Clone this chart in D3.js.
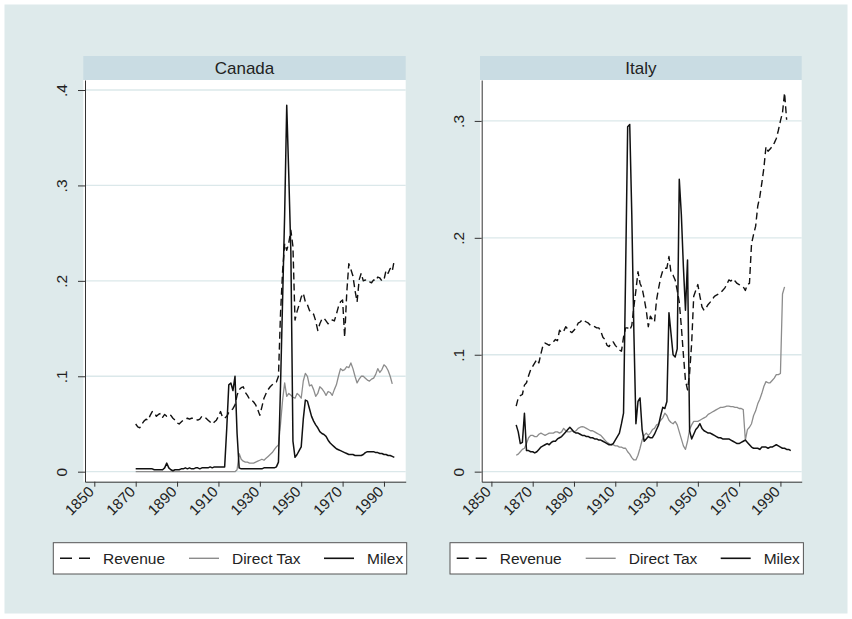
<!DOCTYPE html>
<html>
<head>
<meta charset="utf-8">
<script src="https://cdn.jsdelivr.net/npm/d3@7"></script>
<style>
  body { margin: 0; background: #fff; }
  svg text { font-family: "Liberation Sans", Arial, Helvetica, sans-serif; fill: #222; }
</style>
</head>
<body>
<div id="chart"></div>
<script>
// ---- data (shares of GDP) ----
const seriesNames = ["Revenue", "Direct Tax", "Milex"];
const xTickYears = [1850, 1870, 1890, 1910, 1930, 1950, 1970, 1990];
const canadaYTicks = [0, 0.1, 0.2, 0.3, 0.4];
const italyYTicks = [0, 0.1, 0.2, 0.3];

// Canada, one value per year 1870..1995
const canadaYears = d3.range(1870, 1996);
const canadaRevenue = [
  0.050, 0.047, 0.046, 0.050, 0.053, 0.055, 0.054, 0.059, 0.063, 0.062,
  0.058, 0.060, 0.061, 0.057, 0.060, 0.058, 0.060, 0.059, 0.056, 0.054,
  0.051, 0.050, 0.052, 0.054, 0.055, 0.056, 0.055, 0.056, 0.056, 0.055,
  0.054, 0.055, 0.058, 0.057, 0.056, 0.054, 0.052, 0.050, 0.052, 0.054,
  0.058, 0.063, 0.057, 0.056, 0.058, 0.062, 0.064, 0.066, 0.070, 0.080,
  0.086, 0.088, 0.089, 0.083, 0.080, 0.076, 0.075, 0.073, 0.070, 0.065,
  0.059, 0.068, 0.077, 0.082, 0.086, 0.089, 0.091, 0.093, 0.094, 0.100,
  0.166, 0.210, 0.239, 0.232, 0.240, 0.253, 0.236, 0.159, 0.168, 0.175,
  0.183, 0.187, 0.178, 0.175, 0.169, 0.166, 0.165, 0.158, 0.148, 0.155,
  0.160, 0.161, 0.158, 0.155, 0.157, 0.159, 0.158, 0.165, 0.173, 0.178,
  0.180, 0.141, 0.187, 0.218, 0.212, 0.205, 0.190, 0.178, 0.201, 0.208,
  0.200, 0.201, 0.199, 0.199, 0.198, 0.201, 0.200, 0.204, 0.203, 0.200,
  0.201, 0.211, 0.208, 0.213, 0.210, 0.222
];
const canadaDirectTax = [
  0, 0, 0, 0, 0, 0, 0, 0, 0, 0,
  0, 0, 0, 0, 0, 0, 0, 0, 0, 0,
  0, 0, 0, 0, 0, 0, 0, 0, 0, 0,
  0, 0, 0, 0, 0, 0, 0, 0, 0, 0,
  0, 0, 0, 0, 0, 0, 0, 0, 0, 0.002,
  0.019, 0.013, 0.011, 0.010, 0.010, 0.009, 0.009, 0.009, 0.010, 0.011,
  0.012, 0.013, 0.012, 0.014, 0.016, 0.018, 0.020, 0.023, 0.026, 0.028,
  0.050, 0.075, 0.093, 0.079, 0.082, 0.080, 0.078, 0.077, 0.082, 0.080,
  0.077, 0.095, 0.103, 0.100, 0.090, 0.091, 0.086, 0.079, 0.082, 0.089,
  0.087, 0.084, 0.080, 0.084, 0.083, 0.080, 0.086, 0.091, 0.100, 0.108,
  0.106, 0.107, 0.110, 0.109, 0.114, 0.108, 0.100, 0.093, 0.097, 0.100,
  0.100, 0.098, 0.096, 0.095, 0.097, 0.098, 0.102, 0.108, 0.104, 0.107,
  0.112, 0.110, 0.106, 0.100, 0.092, null
];
const canadaMilex = [
  0.003, 0.003, 0.003, 0.003, 0.003, 0.003, 0.003, 0.003, 0.003, 0.002,
  0.002, 0.002, 0.002, 0.002, 0.004, 0.009, 0.004, 0.002, 0.001, 0.002,
  0.002, 0.002, 0.003, 0.003, 0.004, 0.003, 0.004, 0.003, 0.003, 0.004,
  0.004, 0.003, 0.004, 0.004, 0.004, 0.004, 0.005, 0.004, 0.005, 0.005,
  0.005, 0.005, 0.005, 0.005, 0.045, 0.091, 0.093, 0.085, 0.100, 0.040,
  0.004, 0.003, 0.003, 0.003, 0.003, 0.003, 0.003, 0.003, 0.003, 0.003,
  0.003, 0.003, 0.004, 0.004, 0.004, 0.004, 0.004, 0.004, 0.005, 0.010,
  0.090, 0.180, 0.270, 0.384, 0.310, 0.230, 0.032, 0.015, 0.018, 0.022,
  0.026, 0.055, 0.075, 0.074, 0.066, 0.058, 0.053, 0.049, 0.046, 0.042,
  0.040, 0.039, 0.037, 0.033, 0.030, 0.028, 0.026, 0.024, 0.023, 0.022,
  0.021, 0.020, 0.019, 0.018, 0.018, 0.018, 0.017, 0.017, 0.017, 0.017,
  0.018, 0.020, 0.021, 0.021, 0.021, 0.021, 0.020, 0.020, 0.019, 0.019,
  0.018, 0.018, 0.017, 0.017, 0.016, 0.015
];

// Italy, one value per year 1862..1995
const italyYears = d3.range(1862, 1996);
const italyRevenue = [
  0.056, 0.063, 0.065, 0.066, 0.074, 0.076, 0.082, 0.087,
  0.090, 0.093, 0.096, 0.093, 0.101, 0.108, 0.110, 0.109, 0.108, 0.110,
  0.111, 0.113, 0.112, 0.121, 0.119, 0.120, 0.124, 0.122, 0.120, 0.119,
  0.121, 0.123, 0.127, 0.128, 0.130, 0.129, 0.128, 0.127, 0.125, 0.125,
  0.124, 0.123, 0.123, 0.120, 0.115, 0.113, 0.108, 0.107, 0.110, 0.111,
  0.108, 0.106, 0.104, 0.103, 0.115, 0.123, 0.123, 0.121, 0.125, 0.141,
  0.155, 0.171, 0.161, 0.157, 0.148, 0.138, 0.124, 0.133, 0.130, 0.128,
  0.147, 0.157, 0.166, 0.172, 0.174, 0.174, 0.184, 0.170, 0.168, 0.164,
  0.155, 0.145, 0.124, 0.100, 0.078, 0.070, 0.084, 0.110, 0.150, 0.155,
  0.160, 0.150, 0.141, 0.138, 0.140, 0.143, 0.145, 0.147, 0.150, 0.151,
  0.152, 0.153, 0.155, 0.157, 0.160, 0.164, 0.163, 0.165, 0.163, 0.161,
  0.160, 0.159, 0.158, 0.155, 0.160, 0.161, 0.195, 0.203, 0.210, 0.227,
  0.235, 0.247, 0.260, 0.278, 0.274, 0.276, 0.278, 0.281, 0.285, 0.292,
  0.300, 0.307, 0.324, 0.301, null, null
];
const italyDirectTax = [
  0.014, 0.015, 0.017, 0.019, 0.020, 0.024, 0.029, 0.031,
  0.031, 0.030, 0.030, 0.032, 0.033, 0.032, 0.031, 0.032, 0.033, 0.033,
  0.033, 0.034, 0.034, 0.033, 0.034, 0.037, 0.035, 0.034, 0.034, 0.035,
  0.034, 0.035, 0.037, 0.038, 0.0385, 0.038, 0.037, 0.036, 0.035, 0.035,
  0.034, 0.033, 0.032, 0.031, 0.029, 0.027, 0.025, 0.024, 0.023, 0.023,
  0.022, 0.022, 0.021, 0.021, 0.020, 0.020, 0.017, 0.015, 0.012, 0.010,
  0.010, 0.014, 0.020, 0.027, 0.031, 0.033, 0.031, 0.033, 0.036, 0.037,
  0.040, 0.041, 0.044, 0.046, 0.050, 0.048, 0.044, 0.042, 0.041, 0.043,
  0.040, 0.034, 0.028, 0.022, 0.019, 0.026, 0.036, 0.040, 0.043, 0.043,
  0.043, 0.044, 0.045, 0.046, 0.047, 0.049, 0.050, 0.051, 0.052, 0.053,
  0.054, 0.055, 0.055, 0.0555, 0.056, 0.056, 0.0556, 0.0556, 0.055, 0.055,
  0.054, 0.054, 0.053, 0.027, 0.036, 0.038, 0.041, 0.048, 0.052, 0.058,
  0.062, 0.067, 0.073, 0.077, 0.076, 0.076, 0.078, 0.080, 0.083, 0.083,
  0.084, 0.152, 0.158, null, null, null
];
const italyMilex = [
  0.040, 0.034, 0.024, 0.025, 0.050, 0.018, 0.018, 0.017,
  0.017, 0.016, 0.017, 0.019, 0.021, 0.022, 0.023, 0.024, 0.023, 0.025,
  0.026, 0.026, 0.028, 0.029, 0.030, 0.032, 0.034, 0.036, 0.038, 0.036,
  0.034, 0.033, 0.033, 0.032, 0.031, 0.031, 0.030, 0.030, 0.029, 0.029,
  0.028, 0.028, 0.027, 0.027, 0.026, 0.025, 0.024, 0.023, 0.023, 0.024,
  0.027, 0.030, 0.033, 0.041, 0.050, 0.170, 0.295, 0.297, 0.220, 0.120,
  0.041, 0.060, 0.063, 0.036, 0.026, 0.028, 0.030, 0.029, 0.029, 0.032,
  0.036, 0.040, 0.048, 0.055, 0.054, 0.060, 0.136, 0.118, 0.100, 0.098,
  0.105, 0.250, 0.220, 0.175, 0.138, 0.181, 0.035, 0.028, 0.032, 0.036,
  0.038, 0.041, 0.037, 0.035, 0.034, 0.033, 0.033, 0.032, 0.031, 0.030,
  0.029, 0.029, 0.028, 0.028, 0.028, 0.028, 0.027, 0.026, 0.025, 0.024,
  0.024, 0.025, 0.026, 0.027, 0.025, 0.023, 0.021, 0.020, 0.020, 0.020,
  0.019, 0.021, 0.021, 0.021, 0.020, 0.021, 0.021, 0.022, 0.023, 0.022,
  0.021, 0.020, 0.020, 0.019, 0.019, 0.018
];

// ---- layout ----
const W = 852, H = 619;
const panels = [
  { name: "Canada", years: canadaYears, series: [canadaRevenue, canadaDirectTax, canadaMilex],
    left: 85, right: 405.7, xDomain: [1845.5, 2000.5], yDomain: [-0.0105, 0.4105], yTicks: canadaYTicks },
  { name: "Italy", years: italyYears, series: [italyRevenue, italyDirectTax, italyMilex],
    left: 481.7, right: 801.7, xDomain: [1845.3, 2000.3], yDomain: [-0.0086, 0.335], yTicks: italyYTicks }
];
const plotTop = 80, plotBottom = 481.7;
const styles = [
  { stroke: "#111", width: 1.4, dash: "7,4", keyDash: "12,7" },
  { stroke: "#8c8c8c", width: 1.3, dash: null, keyDash: null },
  { stroke: "#111", width: 1.5, dash: null, keyDash: null }
];

const svg = d3.select("#chart").append("svg")
  .attr("width", W)
  .attr("height", H);

svg.append("rect").attr("width", W).attr("height", H).attr("fill", "#fff");
svg.append("rect")
  .attr("x", 4.5).attr("y", 4.5)
  .attr("width", 843).attr("height", 609)
  .attr("fill", "#deeaeb");

let fmt = d => d === 0 ? "0" : d3.format(".1f")(d).replace(/^0/, "");

panels.forEach(p => {
  let g = svg.append("g");
  let x = d3.scaleLinear().domain(p.xDomain).range([p.left, p.right]);
  let y = d3.scaleLinear().domain(p.yDomain).range([plotBottom, plotTop]);

  // plot region + title strip
  g.append("rect")
    .attr("x", p.left - 1.7).attr("y", plotTop)
    .attr("width", p.right - p.left + 1.7).attr("height", plotBottom - plotTop)
    .attr("fill", "#fff");
  g.append("rect")
    .attr("x", p.left - 1.7).attr("y", 56)
    .attr("width", p.right - p.left + 1.7).attr("height", 24)
    .attr("fill", "#c9dce3");
  g.append("text")
    .attr("x", (p.left - 1.7 + p.right) / 2).attr("y", 68)
    .attr("dy", "0.35em")
    .attr("text-anchor", "middle")
    .style("font-size", "17px")
    .text(p.name);

  // grid
  g.selectAll(".grid").data(p.yTicks).enter()
    .append("line")
    .attr("class", "grid")
    .attr("x1", p.left).attr("x2", p.right)
    .attr("y1", d => y(d)).attr("y2", d => y(d))
    .attr("stroke", "#dbe8ea")
    .attr("stroke-width", 1.3);

  // lines
  p.series.forEach((vals, i) => {
    let pts = p.years.map((yr, j) => [yr, vals[j]]);
    let line = d3.line()
      .defined(d => d[1] != null)
      .x(d => x(d[0]))
      .y(d => y(d[1]));
    g.append("path")
      .datum(pts)
      .attr("d", line)
      .attr("fill", "none")
      .attr("stroke", styles[i].stroke)
      .attr("stroke-width", styles[i].width)
      .attr("stroke-linejoin", "round")
      .attr("stroke-dasharray", styles[i].dash);
  });

  // axes
  let yAxis = g.append("g")
    .attr("transform", `translate(${p.left},0)`)
    .call(d3.axisLeft(y).tickValues(p.yTicks).tickFormat(fmt).tickSize(7).tickSizeOuter(0));
  yAxis.selectAll("text")
    .attr("x", null).attr("dy", null)
    .attr("text-anchor", "middle")
    .attr("transform", "translate(-18,0) rotate(-90)")
    .attr("font-size", 15.5)
    .attr("fill", "#222");

  let xAxis = g.append("g")
    .attr("transform", `translate(0,${plotBottom})`)
    .call(d3.axisBottom(x).tickValues(xTickYears).tickFormat(d3.format("d")).tickSize(5).tickSizeOuter(0));
  xAxis.selectAll("text")
    .attr("y", null).attr("dy", null)
    .attr("text-anchor", "end")
    .attr("transform", "translate(0,11) rotate(-45)")
    .attr("font-size", 15)
    .attr("fill", "#222");
  g.selectAll(".domain, .tick line").attr("stroke", "#333");

  // legend
  let lg = g.append("g").attr("transform", `translate(${p.left - 31.7},542.7)`);
  lg.append("rect")
    .attr("width", 353.4).attr("height", 31.3)
    .attr("fill", "#fff").attr("stroke", "#555").attr("stroke-width", 1);
  let keyX = [6.7, 135.7, 270.7];
  seriesNames.forEach((name, i) => {
    lg.append("line")
      .attr("x1", keyX[i]).attr("x2", keyX[i] + 30)
      .attr("y1", 15.6).attr("y2", 15.6)
      .attr("stroke", styles[i].stroke)
      .attr("stroke-width", styles[i].width + 0.1)
      .attr("stroke-dasharray", styles[i].keyDash);
    lg.append("text")
      .attr("x", keyX[i] + 43).attr("y", 15.6)
      .attr("dy", "0.35em")
      .style("font-size", "15.5px")
      .text(name);
  });
});
</script>
</body>
</html>
